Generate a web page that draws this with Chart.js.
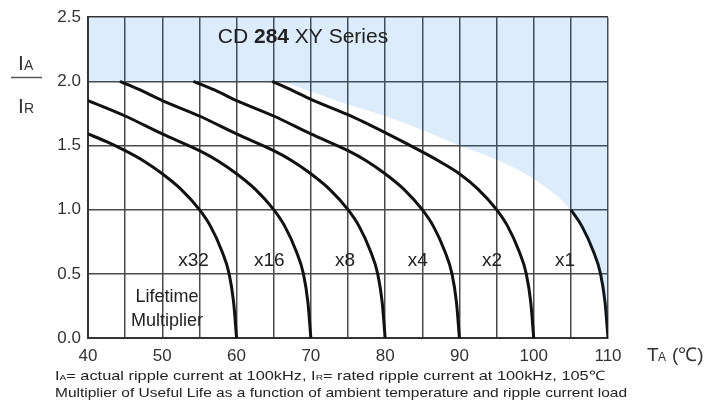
<!DOCTYPE html>
<html><head><meta charset="utf-8">
<script src="https://cdn.jsdelivr.net/npm/chart.js@4"></script>
<style>html,body{margin:0;padding:0;background:#fff}</style>
</head><body>
<canvas id="c" width="724" height="405"></canvas>
<script>
// ---- data ----
const xTickLabels = [40, 50, 60, 70, 80, 90, 100, 110];
const yTickLabels = [0.0, 0.5, 1.0, 1.5, 2.0, 2.5];
const multipliers = ['x32', 'x16', 'x8', 'x4', 'x2', 'x1'];

const x32_T = [40, 42.5, 45, 47.5, 50, 52.5, 55, 56.5, 58, 59, 59.6, 60];
const x32_I = [1.59, 1.53, 1.46, 1.38, 1.28, 1.16, 1.0, 0.87, 0.68, 0.5, 0.28, 0];

const x16_T = [40, 45, 50, 55, 57.5, 60, 62.5, 65, 66.5, 68, 69, 69.6, 70];
const x16_I = [1.85, 1.73, 1.59, 1.46, 1.38, 1.28, 1.16, 1.0, 0.87, 0.68, 0.5, 0.28, 0];

const x8_T = [44.3, 47.5, 50, 55, 60, 65, 67.5, 70, 72.5, 75, 76.5, 78, 79, 79.6, 80];
const x8_I = [2.0, 1.92, 1.85, 1.73, 1.59, 1.46, 1.38, 1.28, 1.16, 1.0, 0.87, 0.68, 0.5, 0.28, 0];

const x4_T = [54.2, 57.5, 60, 65, 70, 75, 77.5, 80, 82.5, 85, 86.5, 88, 89, 89.6, 90];
const x4_I = [2.0, 1.92, 1.85, 1.73, 1.59, 1.46, 1.38, 1.28, 1.16, 1.0, 0.87, 0.68, 0.5, 0.28, 0];

const x2_T = [64.8, 67.5, 70, 75, 80, 85, 87.5, 90, 92.5, 95, 96.5, 98, 99, 99.6, 100];
const x2_I = [2.0, 1.93, 1.86, 1.74, 1.6, 1.45, 1.37, 1.28, 1.16, 1.0, 0.87, 0.68, 0.5, 0.28, 0];

const x1_T = [105, 106.5, 108, 109, 109.6, 110];
const x1_I = [1.0, 0.87, 0.68, 0.5, 0.28, 0];

// limit of the permitted region (shaded above)
const limit_T = [40, 65, 70, 75, 80, 85, 90, 95, 100, 105, 106.5, 108, 109, 109.6, 110];
const limit_I = [2.0, 2.0, 1.92, 1.82, 1.73, 1.62, 1.5, 1.39, 1.24, 1.0, 0.87, 0.68, 0.5, 0.28, 0];

const labelT = [54.2, 64.4, 74.6, 84.4, 94.4, 104.2];
const labelI = 0.6;

// ---- helpers ----
const pts = (T, I) => T.map((t, i) => ({x: t, y: I[i]}));
const curve = (T, I) => ({
  data: pts(T, I), borderColor: '#111', borderWidth: 3, pointRadius: 0,
  fill: false, cubicInterpolationMode: 'monotone'
});

const FONT = "'Liberation Sans', Arial, sans-serif";

const textPlugin = {
  id: 'texts',
  afterDraw(chart) {
    const ctx = chart.ctx, xs = chart.scales.x, ys = chart.scales.y;
    ctx.save();
    ctx.fillStyle = '#222';
    ctx.textBaseline = 'middle';
    ctx.textAlign = 'center';
    ctx.font = '19px ' + FONT;
    multipliers.forEach((m, i) => {
      ctx.fillText(m, xs.getPixelForValue(labelT[i]), ys.getPixelForValue(labelI));
    });
    ctx.font = '18px ' + FONT;
    ctx.fillText('Lifetime', 167, 297);
    ctx.fillText('Multiplier', 167, 321);

    ctx.textAlign = 'left';
    const parts = [['CD ', '21px ' + FONT], ['284', 'bold 21px ' + FONT], [' XY Series', '21px ' + FONT]];
    let w = 0;
    parts.forEach(p => { ctx.font = p[1]; w += ctx.measureText(p[0]).width; });
    let x = 303 - w / 2;
    parts.forEach(p => { ctx.font = p[1]; ctx.fillText(p[0], x, 37); x += ctx.measureText(p[0]).width; });

    ctx.textBaseline = 'alphabetic';
    ctx.font = '21px ' + FONT;
    ctx.fillStyle = '#333';
    ctx.fillText('I', 18, 70);
    ctx.font = '14px ' + FONT;
    ctx.fillText('A', 24, 70);
    ctx.font = '21px ' + FONT;
    ctx.fillText('I', 18, 113);
    ctx.font = '14px ' + FONT;
    ctx.fillText('R', 24, 113);
    ctx.strokeStyle = '#555';
    ctx.lineWidth = 1.5;
    ctx.beginPath(); ctx.moveTo(11, 77.5); ctx.lineTo(42, 77.5); ctx.stroke();

    ctx.font = '19px ' + FONT;
    ctx.fillText('T', 647, 361);
    ctx.font = '12px ' + FONT;
    ctx.fillText('A', 658, 361);
    ctx.font = '19px ' + FONT;
    ctx.fillText('(℃)', 672, 361);

    const drawLine = (segs, x0, yb, targetW) => {
      let tw = 0;
      segs.forEach(s => { ctx.font = s[1]; tw += ctx.measureText(s[0]).width; });
      const sx = targetW / tw;
      ctx.save();
      ctx.translate(x0, yb);
      ctx.scale(sx, 1);
      let cx = 0;
      segs.forEach(s => { ctx.font = s[1]; ctx.fillText(s[0], cx, 0); cx += ctx.measureText(s[0]).width; });
      ctx.restore();
    };
    ctx.fillStyle = '#222';
    const f = '13px ' + FONT, fs = '8px ' + FONT;
    drawLine([['I', f], ['A', fs], ['= actual ripple current at 100kHz, ', f], ['I', f], ['R', fs],
              ['= rated ripple current at 100kHz, 105℃', f]], 55, 380, 550);
    drawLine([['Multiplier of Useful Life as a function of ambient temperature and ripple current load', f]], 55, 397, 572);
    ctx.restore();
  }
};

new Chart(document.getElementById('c'), {
  type: 'line',
  data: {
    datasets: [
      {
        data: pts(limit_T, limit_I), borderWidth: 0, borderColor: 'rgba(0,0,0,0)',
        backgroundColor: 'rgba(0,116,226,0.137)', pointRadius: 0, fill: 'end',
        cubicInterpolationMode: 'monotone'
      },
      curve(x32_T, x32_I), curve(x16_T, x16_I), curve(x8_T, x8_I),
      curve(x4_T, x4_I), curve(x2_T, x2_I), curve(x1_T, x1_I)
    ]
  },
  options: {
    responsive: false,
    devicePixelRatio: 1,
    animation: false,
    events: [],
    layout: {padding: {top: 12, right: 116, bottom: 0, left: 0}},
    plugins: {legend: {display: false}, tooltip: {enabled: false}},
    scales: {
      x: {
        type: 'linear', min: 40, max: 110,
        afterFit: s => { s.height = 67; },
        afterBuildTicks: s => {
          const t = [];
          for (let v = 40; v <= 110; v += 5) t.push({value: v});
          s.ticks = t;
        },
        ticks: {
          autoSkip: false, maxRotation: 0, padding: 8, color: '#333',
          font: {size: 17, family: FONT},
          callback: v => xTickLabels.includes(v) ? String(v) : ''
        },
        grid: {drawTicks: false, color: '#4a4a4a', lineWidth: 1.5},
        border: {display: true, color: '#333', width: 2}
      },
      y: {
        type: 'linear', min: 0, max: 2.5,
        afterFit: s => { s.width = 88; },
        afterBuildTicks: s => { s.ticks = yTickLabels.map(v => ({value: v})); },
        ticks: {
          padding: 7, color: '#333', font: {size: 17, family: FONT},
          callback: v => Number(v).toFixed(1)
        },
        grid: {
          drawTicks: false, lineWidth: 1.5,
          color: c => (c.tick && c.tick.value === 2.5) ? '#333' : '#4a4a4a'
        },
        border: {display: true, color: '#333', width: 2}
      }
    }
  },
  plugins: [textPlugin]
});
</script>
</body></html>
